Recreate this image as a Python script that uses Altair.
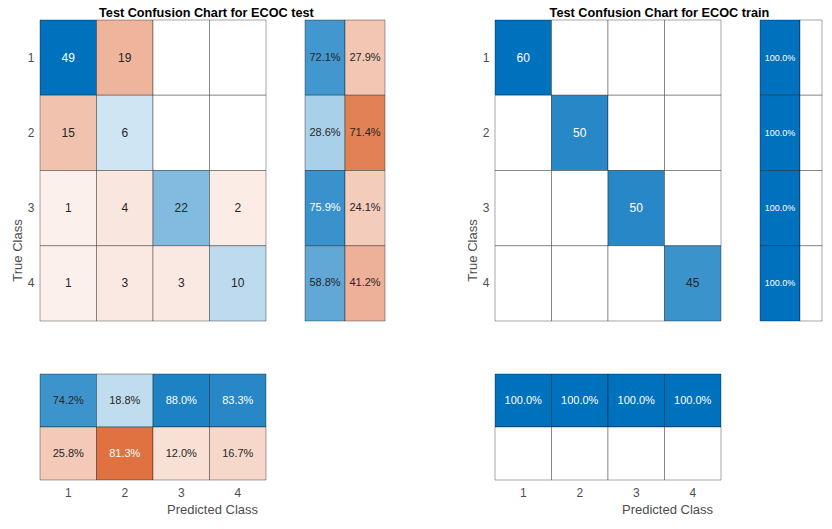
import altair as alt
import pandas as pd

classes = ["1", "2", "3", "4"]
test_counts = [[49, 19, 0, 0], [15, 6, 0, 0], [1, 4, 22, 2], [1, 3, 3, 10]]
train_counts = [[60, 0, 0, 0], [0, 50, 0, 0], [0, 0, 50, 0], [0, 0, 0, 45]]
test_row_correct = [72.1, 28.6, 75.9, 58.8]
test_row_wrong = [27.9, 71.4, 24.1, 41.2]
test_col_correct = [74.2, 18.8, 88.0, 83.3]
test_col_wrong = [25.8, 81.3, 12.0, 16.7]
train_row_correct = [100.0, 100.0, 100.0, 100.0]
train_row_wrong = [0.0, 0.0, 0.0, 0.0]
train_col_correct = [100.0, 100.0, 100.0, 100.0]
train_col_wrong = [0.0, 0.0, 0.0, 0.0]

FONT = "Liberation Sans"
DARK = "#262626"
GRAY = "#4d4d4d"
EPS = 1e-9
color_scale = alt.Scale(domain=[-1, -EPS, 0, EPS, 1],
                        range=["#D95319", "#FCF3EF", "#FFFFFF", "#EDF5FA", "#0072BD"],
                        interpolate="rgb")
txt_color = alt.condition("abs(datum.v) > 0.75", alt.value("white"), alt.value(DARK))


def matrix_df(counts):
    mx = max(max(r) for r in counts)
    rows = []
    for i, r in enumerate(counts):
        for j, c in enumerate(r):
            s = 1 if i == j else -1
            rows.append(dict(t=classes[i], p=classes[j], v=s * c / mx, label=str(c) if c else ""))
    return pd.DataFrame(rows)


def rowsum_df(correct, wrong):
    rows = []
    for i in range(4):
        rows.append(dict(t=classes[i], c=0, v=correct[i] / 100, label=f"{correct[i]:.1f}%" if correct[i] else ""))
        rows.append(dict(t=classes[i], c=1, v=-wrong[i] / 100, label=f"{wrong[i]:.1f}%" if wrong[i] else ""))
    return pd.DataFrame(rows)


def colsum_df(correct, wrong):
    rows = []
    for j in range(4):
        rows.append(dict(p=classes[j], r="c", v=correct[j] / 100, label=f"{correct[j]:.1f}%" if correct[j] else ""))
        rows.append(dict(p=classes[j], r="w", v=-wrong[j] / 100, label=f"{wrong[j]:.1f}%" if wrong[j] else ""))
    return pd.DataFrame(rows)


def panel(counts, rc, rw, cc, cw, title, rs_width, rs_dom, rs_font, rs_gap, title_dx):
    band = alt.Scale(paddingInner=0, paddingOuter=0)
    # matrix
    mdf = matrix_df(counts)
    base = alt.Chart(mdf).encode(
        x=alt.X("p:N", sort=classes, scale=band, axis=None),
        y=alt.Y("t:N", sort=classes, scale=band,
                axis=alt.Axis(title="True Class", labelAngle=0, ticks=False, domain=False,
                              labelFontSize=12, labelColor=GRAY, labelFont=FONT, labelPadding=6,
                              titleFontSize=13, titleColor=GRAY, titleFont=FONT, titleFontWeight="normal",
                              titleY=230, titlePadding=3)),
    )
    mat = alt.layer(
        base.mark_rect(stroke="black", strokeOpacity=0.35, strokeWidth=1).encode(
            color=alt.Color("v:Q", scale=color_scale, legend=None)),
        base.mark_text(font=FONT, fontSize=12).encode(text="label:N", color=txt_color),
    ).properties(width=226, height=301)
    # row summary
    rdf = rowsum_df(rc, rw)
    rscale = alt.Scale(domain=rs_dom, nice=False, zero=False, clamp=True)
    rbase = alt.Chart(rdf).transform_calculate(c2="datum.c + 1", cm="datum.c + 0.5").encode(
        y=alt.Y("t:N", sort=classes, scale=band, axis=None))
    rs = alt.layer(
        rbase.mark_rect(stroke="black", strokeOpacity=0.35, strokeWidth=1).encode(
            x=alt.X("c:Q", scale=rscale, axis=None),
            x2="c2:Q",
            color=alt.Color("v:Q", scale=color_scale, legend=None)),
        rbase.mark_text(font=FONT, fontSize=rs_font).encode(
            x=alt.X("cm:Q", scale=rscale, axis=None),
            text="label:N", color=txt_color),
    ).properties(width=rs_width, height=301)
    # column summary
    cdf = colsum_df(cc, cw)
    cbase = alt.Chart(cdf).encode(
        x=alt.X("p:N", sort=classes, scale=band,
                axis=alt.Axis(title="Predicted Class", labelAngle=0, ticks=False, domain=False,
                              labelFontSize=12, labelColor=GRAY, labelFont=FONT, labelPadding=7,
                              titleFontSize=13, titleColor=GRAY, titleFont=FONT, titleFontWeight="normal",
                              titleX=172, titlePadding=5)),
        y=alt.Y("r:N", sort=["c", "w"], scale=band, axis=None),
    )
    cs = alt.layer(
        cbase.mark_rect(stroke="black", strokeOpacity=0.35, strokeWidth=1).encode(
            color=alt.Color("v:Q", scale=color_scale, legend=None)),
        cbase.mark_text(font=FONT, fontSize=11).encode(text="label:N", color=txt_color),
    ).properties(width=226, height=106)
    top = alt.hconcat(mat, rs, spacing=rs_gap).properties(
        title=alt.TitleParams(title, font=FONT, fontSize=12.7, fontWeight="bold", color="black",
                              anchor="middle", offset=0, dx=title_dx))
    return alt.vconcat(top, cs, spacing=51)


left = panel(test_counts, test_row_correct, test_row_wrong, test_col_correct, test_col_wrong,
             "Test Confusion Chart for ECOC test", 80, [0, 2], 11, 37, 8)
right = panel(train_counts, train_row_correct, train_row_wrong, train_col_correct, train_col_wrong,
              "Test Confusion Chart for ECOC train", 62, [0, 62 / 40], 9, 37, 15)

chart = alt.hconcat(left, right, spacing=80).properties(
    padding={"left": 3, "top": -2, "right": 0, "bottom": 0}
).configure_view(stroke=None).configure_scale(bandPaddingInner=0)

chart.save("out.html", embed_options={"renderer": "svg", "actions": False})
